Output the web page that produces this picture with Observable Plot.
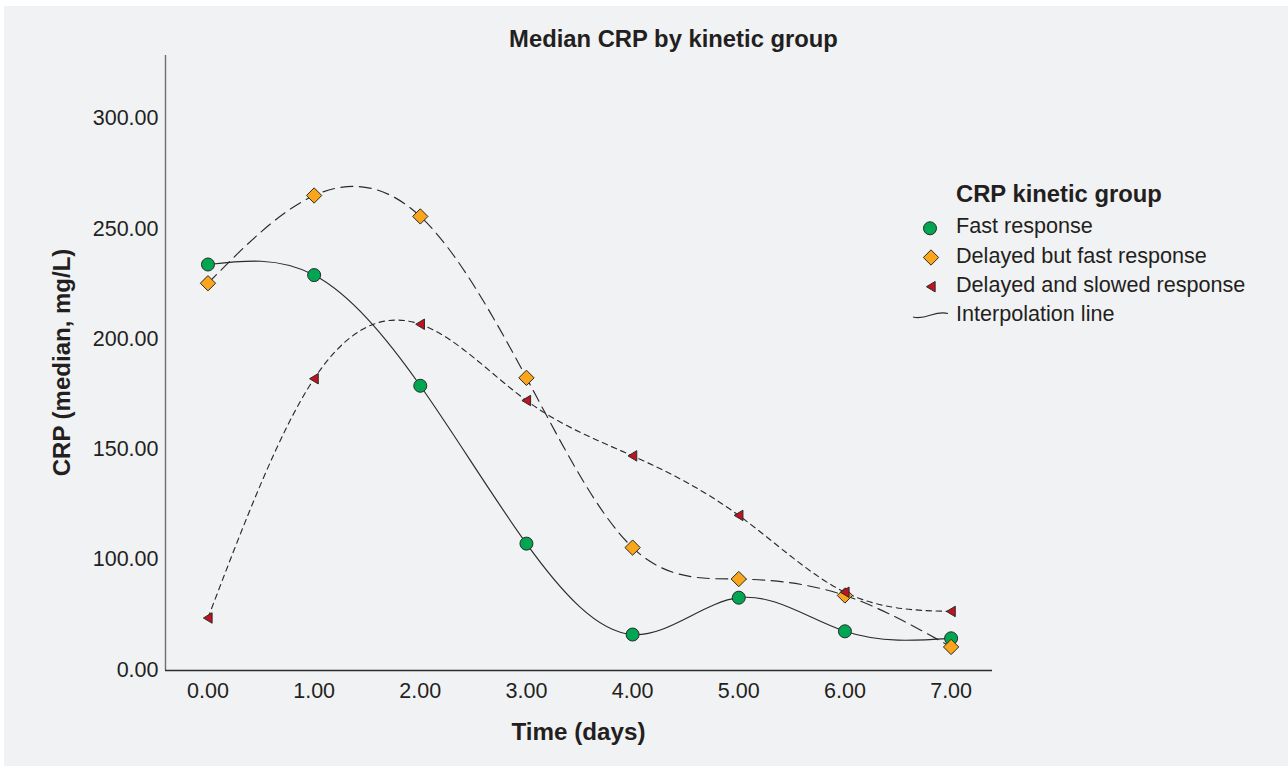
<!DOCTYPE html>
<html>
<head>
<meta charset="utf-8">
<script src="https://cdn.jsdelivr.net/npm/d3@7"></script>
<script src="https://cdn.jsdelivr.net/npm/@observablehq/plot@0.6"></script>
<style>
  html, body { margin: 0; padding: 0; background: #ffffff; }
  #page { position: relative; width: 1288px; height: 766px; overflow: hidden; }
  #bg { position: absolute; left: 4px; top: 6px; width: 1284px; height: 760px; background: #f1f2f4; }
  #chart { position: absolute; left: 0; top: 0; }
  #overlay { position: absolute; left: 0; top: 0; pointer-events: none; }
  text { font-family: "Liberation Sans", Arial, sans-serif; }
</style>
</head>
<body>
<div id="page">
  <div id="bg"></div>
  <div id="chart"></div>
  <svg id="overlay" width="1288" height="766"></svg>
</div>
<script>
// ---- Data ----
const days = [0, 1, 2, 3, 4, 5, 6, 7];
const fastResponse = [233.8, 229.0, 178.8, 107.2, 32.4, 65.6, 35.3, 29.0];
const delayedFast = [225.3, 265.1, 255.6, 182.4, 105.4, 82.4, 67.6, 21.2];
const delayedSlow = [47.3, 182.0, 206.7, 172.1, 147.0, 120.0, 70.5, 53.2];

const seriesNames = ["Fast response", "Delayed but fast response", "Delayed and slowed response"];
const seriesValues = [fastResponse, delayedFast, delayedSlow];
const seriesFill = ["#00a651", "#f9a61c", "#c1131f"];
const seriesDash = [null, "12,6.5", "5.5,4.5"];

const yTicks = [0, 100, 150, 200, 250, 300];
const xTicks = [0, 1, 2, 3, 4, 5, 6, 7];

const titleText = "Median CRP by kinetic group";
const xTitle = "Time (days)";
const yTitle = "CRP (median, mg/L)";
const legendTitle = "CRP kinetic group";
const interpolationLabel = "Interpolation line";

(function () {
// custom left-pointing triangle symbol
const triangleLeft = {
  draw(context, size) {
    const r = Math.sqrt(size / Math.PI);
    context.moveTo(-0.68 * r, 0);
    context.lineTo(0.62 * r, -0.78 * r);
    context.lineTo(0.62 * r, 0.78 * r);
    context.closePath();
  }
};
const seriesSymbol = ["circle", "diamond2", triangleLeft];
const seriesR = [6.5, 6.9, 6.7];

// build tidy table
const rows = [];
seriesNames.forEach((name, i) => {
  days.forEach((d, j) => rows.push({series: name, idx: i, day: d, crp: seriesValues[i][j]}));
});

const textColor = "#231f20";
const W = 1288, H = 766;
const pLeft = 165, pRight = 992, pTop = 55, pBottom = 670;

const marks = [
  Plot.ruleX([-0.4], {stroke: "#6e6e6e", strokeWidth: 1.4}),
  Plot.ruleY([0], {stroke: "#2b2b2b", strokeWidth: 1.4}),
  Plot.axisY({ticks: yTicks, tickSize: 0, tickPadding: 7, tickFormat: d => d.toFixed(2),
    fontSize: 21.5, fill: textColor, label: null}),
  Plot.axisX({ticks: xTicks, tickSize: 0, tickPadding: 12, tickFormat: d => d.toFixed(2),
    fontSize: 21.5, fill: textColor, label: null})
];
seriesNames.forEach((name, i) => {
  marks.push(Plot.line(rows.filter(r => r.idx === i), {
    x: "day", y: "crp", curve: "natural", stroke: "#2a2a2a", strokeWidth: 1.15,
    strokeDasharray: seriesDash[i] || undefined
  }));
});
seriesNames.forEach((name, i) => {
  marks.push(Plot.dot(rows.filter(r => r.idx === i), {
    x: "day", y: "crp", symbol: seriesSymbol[i], r: seriesR[i],
    fill: seriesFill[i], stroke: "#2a2a2a", strokeWidth: 1
  }));
});

const chart = Plot.plot({
  width: W, height: H,
  marginLeft: pLeft, marginRight: W - pRight, marginTop: pTop, marginBottom: H - pBottom,
  style: {background: "transparent", fontFamily: "Liberation Sans, Arial, sans-serif"},
  x: {domain: [-0.4, 7.39]},
  y: {type: "linear", domain: [0, 100, 328.6], range: [pBottom, 559, pTop]},
  marks
});
document.getElementById("chart").appendChild(chart);

// ---- titles and legend ----
const ov = d3.select("#overlay");
ov.append("text").attr("x", 673.5).attr("y", 46.5).attr("text-anchor", "middle")
  .attr("font-size", 23.8).attr("font-weight", "bold").attr("fill", textColor).text(titleText);
ov.append("text").attr("x", 578.5).attr("y", 739.5).attr("text-anchor", "middle")
  .attr("font-size", 24.2).attr("font-weight", "bold").attr("fill", textColor).text(xTitle);
ov.append("text").attr("transform", "translate(69.5,362.5) rotate(-90)").attr("text-anchor", "middle")
  .attr("font-size", 24).attr("font-weight", "bold").attr("fill", textColor).text(yTitle);

ov.append("text").attr("x", 956).attr("y", 201.5).attr("font-size", 23.8).attr("font-weight", "bold")
  .attr("fill", textColor).text(legendTitle);
const legendBase = [233.3, 263.3, 291.7];
const legendSymY = [228.3, 257.5, 286.7];
const d3Sym = [d3.symbolCircle, d3.symbolDiamond2, triangleLeft];
seriesNames.forEach((name, i) => {
  const size = Math.PI * seriesR[i] * seriesR[i];
  if (i === 0) {
    ov.append("circle").attr("cx", 930).attr("cy", legendSymY[i]).attr("r", seriesR[i])
      .attr("fill", seriesFill[i]).attr("stroke", "#2a2a2a").attr("stroke-width", 1);
  } else {
    ov.append("path").attr("d", d3.symbol(d3Sym[i], size)())
      .attr("transform", `translate(931,${legendSymY[i]})`)
      .attr("fill", seriesFill[i]).attr("stroke", "#2a2a2a").attr("stroke-width", 1);
  }
  ov.append("text").attr("x", 956).attr("y", legendBase[i]).attr("font-size", 21.6)
    .attr("fill", textColor).text(name);
});
ov.append("path").attr("d", "M913,317 C919,318.5 925,317 931,315 S943,312 948,313.5")
  .attr("fill", "none").attr("stroke", "#2a2a2a").attr("stroke-width", 1.2);
ov.append("text").attr("x", 956).attr("y", 320.7).attr("font-size", 21.6)
  .attr("fill", textColor).text(interpolationLabel);
})();
</script>
</body>
</html>
